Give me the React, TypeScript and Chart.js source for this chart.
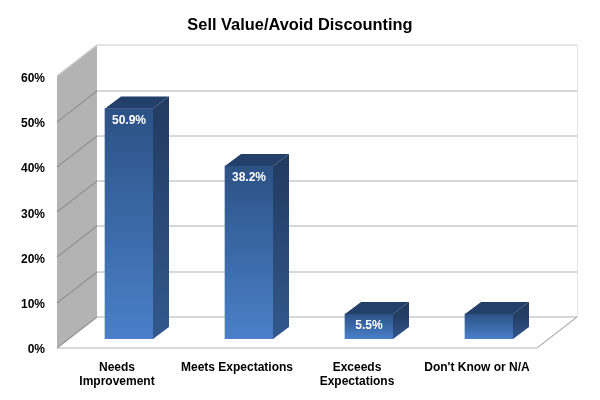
import React, { useEffect, useRef } from "react";
import { Chart, registerables } from "chart.js";

Chart.register(...registerables);

const titleText = "Sell Value/Avoid Discounting";
const categories: (string | string[])[] = [
  ["Needs", "Improvement"],
  "Meets Expectations",
  ["Exceeds", "Expectations"],
  "Don't Know or N/A",
];
const values = [50.9, 38.2, 5.5, 5.5];
const valueLabels = ["50.9%", "38.2%", "5.5%", ""];
const tickMax = 60;
const tickStep = 10;

const WALL_DX = 40;
const WALL_DY = 31;
const BAR_DX = 12;
const BAR_DY = 9;
const SIDE_DX = 16;
const SIDE_DY = 12;
const FONT = "'Liberation Sans', Arial, sans-serif";

const depthPlugin = {
  id: "depth",
  beforeDraw(chart: any) {
    const { ctx, chartArea: a, scales } = chart;
    const y = scales.y;
    const y0 = y.getPixelForValue(0);
    const yT = y.getPixelForValue(tickMax);
    ctx.save();
    // left wall
    ctx.fillStyle = "#b3b3b3";
    ctx.beginPath();
    ctx.moveTo(a.left, y0);
    ctx.lineTo(a.left, yT);
    ctx.lineTo(a.left + WALL_DX, yT - WALL_DY);
    ctx.lineTo(a.left + WALL_DX, y0 - WALL_DY);
    ctx.closePath();
    ctx.fill();
    // gridlines
    ctx.lineWidth = 1.2;
    y.ticks.forEach((t: any) => {
      const p = Math.round(y.getPixelForValue(t.value));
      const isTop = t.value === tickMax;
      ctx.strokeStyle = isTop ? "#c8c8c8" : "#b0b0b0";
      ctx.beginPath();
      ctx.moveTo(a.left + WALL_DX, p - WALL_DY);
      ctx.lineTo(a.right + WALL_DX, p - WALL_DY);
      ctx.stroke();
      ctx.strokeStyle = isTop ? "#c8c8c8" : "#929292";
      ctx.beginPath();
      ctx.moveTo(a.left, p);
      ctx.lineTo(a.left + WALL_DX, p - WALL_DY);
      ctx.stroke();
    });
    // right edge of back wall, floor edges
    ctx.lineWidth = 1;
    ctx.strokeStyle = "#e4e4e4";
    ctx.beginPath();
    ctx.moveTo(a.right + WALL_DX + 0.5, yT - WALL_DY);
    ctx.lineTo(a.right + WALL_DX + 0.5, y0 - WALL_DY);
    ctx.stroke();
    ctx.strokeStyle = "#b0b0b0";
    ctx.lineWidth = 1.2;
    ctx.beginPath();
    ctx.moveTo(a.left, y0);
    ctx.lineTo(a.right, y0);
    ctx.lineTo(a.right + WALL_DX, y0 - WALL_DY);
    ctx.stroke();
    ctx.restore();
  },
  beforeDatasetsDraw(chart: any) {
    chart.ctx.save();
    chart.ctx.translate(BAR_DX, -BAR_DY);
  },
  afterDatasetsDraw(chart: any) {
    const { ctx } = chart;
    const bars = chart.getDatasetMeta(0).data;
    bars.forEach((bar: any, i: number) => {
      const right = bar.x + bar.width / 2;
      const left = bar.x - bar.width / 2;
      const sideGrad = ctx.createLinearGradient(0, bar.y, 0, bar.base);
      sideGrad.addColorStop(0, "#223c62");
      sideGrad.addColorStop(1, "#32588c");
      ctx.fillStyle = sideGrad;
      ctx.beginPath();
      ctx.moveTo(right, bar.y);
      ctx.lineTo(right + SIDE_DX, bar.y - SIDE_DY);
      ctx.lineTo(right + SIDE_DX, bar.base - SIDE_DY);
      ctx.lineTo(right, bar.base);
      ctx.closePath();
      ctx.fill();
      ctx.fillStyle = "#23406a";
      ctx.beginPath();
      ctx.moveTo(left, bar.y);
      ctx.lineTo(left + SIDE_DX, bar.y - SIDE_DY);
      ctx.lineTo(right + SIDE_DX, bar.y - SIDE_DY);
      ctx.lineTo(right, bar.y);
      ctx.closePath();
      ctx.fill();
      if (valueLabels[i]) {
        ctx.fillStyle = "#ffffff";
        ctx.font = `bold 12px ${FONT}`;
        ctx.textAlign = "center";
        ctx.textBaseline = "middle";
        ctx.fillText(valueLabels[i], bar.x, bar.y + 12);
      }
    });
    ctx.restore();
  },
};

export default function App() {
  const ref = useRef<HTMLCanvasElement | null>(null);
  useEffect(() => {
    document.body.style.margin = "0";
    const chart = new Chart(ref.current as HTMLCanvasElement, {
      type: "bar",
      plugins: [depthPlugin],
      data: {
        labels: categories as any,
        datasets: [
          {
            data: values,
            barThickness: 48,
            backgroundColor: (c: any) => {
              const yS = c.chart.scales.y;
              if (!yS || c.raw == null) return "#3a6aa8";
              const top = yS.getPixelForValue(c.raw);
              const bottom = yS.getPixelForValue(0);
              if (!Number.isFinite(top) || !Number.isFinite(bottom)) return "#3a6aa8";
              const g = c.chart.ctx.createLinearGradient(0, top, 0, bottom);
              g.addColorStop(0, "#2c5285");
              g.addColorStop(1, "#4a80c9");
              return g;
            },
          },
        ],
      },
      options: {
        responsive: false,
        animation: false,
        devicePixelRatio: 1,
        layout: { padding: 0 },
        plugins: {
          legend: { display: false },
          tooltip: { enabled: false },
          title: {
            display: true,
            text: titleText,
            color: "#000000",
            font: { family: FONT, size: 16.4, weight: "bold" },
            padding: { top: 15.5, bottom: 41.2 },
          },
        },
        scales: {
          x: {
            grid: { display: false },
            border: { display: false },
            ticks: {
              color: "#000000",
              font: { family: FONT, size: 12, weight: "bold" },
              padding: 4,
              maxRotation: 0,
              autoSkip: false,
            },
            afterFit: (s: any) => {
              s.height = 52;
            },
          },
          y: {
            min: 0,
            max: tickMax,
            grid: { display: false },
            border: { display: false },
            ticks: {
              stepSize: tickStep,
              color: "#000000",
              font: { family: FONT, size: 12, weight: "bold" },
              padding: 4,
              labelOffset: 2,
              callback: (v: any) => `${v}%`,
            },
            afterFit: (s: any) => {
              s.width = 57;
            },
          },
          spacer: {
            position: "right",
            grid: { display: false },
            border: { display: false },
            ticks: { display: false },
            afterFit: (s: any) => {
              s.width = 63;
            },
          },
        },
      } as any,
    });
    return () => chart.destroy();
  }, []);
  return <canvas ref={ref} width={600} height={400} style={{ display: "block" }} />;
}
